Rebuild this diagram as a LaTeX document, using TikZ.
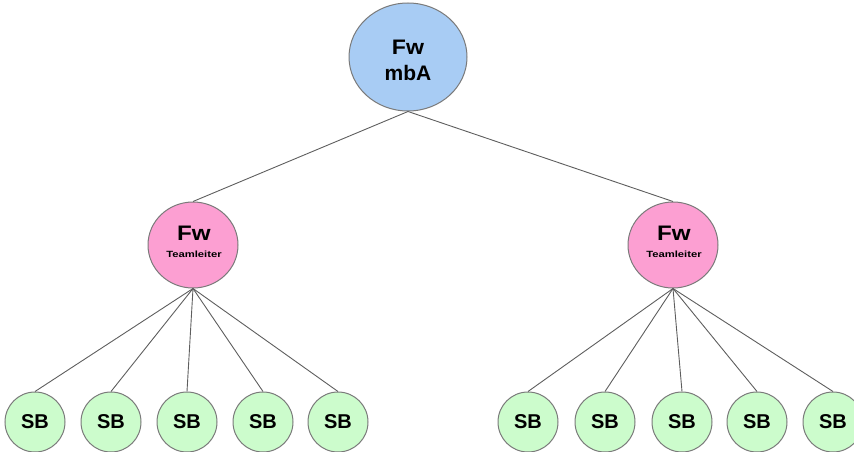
\documentclass[tikz,border=0pt]{standalone}
\usepackage{fontspec}
\setmainfont{Liberation Sans}
\usetikzlibrary{shapes.geometric}
\definecolor{blueFill}{HTML}{A8CCF4}
\definecolor{pinkFill}{HTML}{FC9FD2}
\definecolor{greenFill}{HTML}{CCFCCC}
\definecolor{edgeGray}{HTML}{7A7A7A}
\definecolor{lineGray}{HTML}{5E5E5E}
\begin{document}
\begin{tikzpicture}[x=1pt,y=-1pt,
  outline/.style={draw=edgeGray, line width=1pt},
  topbox/.style={ellipse, outline, fill=blueFill, minimum width=118pt, minimum height=108pt, inner sep=0pt},
  leadbox/.style={ellipse, outline, fill=pinkFill, minimum width=90pt, minimum height=86pt, inner sep=0pt},
  sbbox/.style={circle, outline, fill=greenFill, minimum size=60pt, inner sep=0pt,
    font=\fontsize{20}{20}\selectfont\bfseries},
  link/.style={draw=lineGray, line width=0.9pt},
  bigtext/.style={font=\fontsize{21}{21}\selectfont\bfseries, anchor=base, inner sep=0pt},
  smalltext/.style={font=\fontsize{9}{9}\selectfont\bfseries, anchor=base, inner sep=0pt},
]
\useasboundingbox (0,0) rectangle (854,452);
\clip (0,0) rectangle (854,452);

% top level
\node[topbox] (fwa) at (408,57) {};
\node[bigtext] (fwaA) at (408,55) {\scalebox{1.1}[1]{Fw}};
\node[bigtext] (fwaB) at (408,81) {mbA};

% team leaders
\node[leadbox] (leadL) at (193,245) {};
\node[bigtext] (leadLA) at (194,240) {\scalebox{1.15}[1]{Fw}};
\node[smalltext] (leadLB) at (194,257) {\scalebox{1.25}[1]{Teamleiter}};

\node[leadbox] (leadR) at (673,245) {};
\node[bigtext] (leadRA) at (674,240) {\scalebox{1.15}[1]{Fw}};
\node[smalltext] (leadRB) at (674,257) {\scalebox{1.25}[1]{Teamleiter}};

\draw[link] (fwa.south) -- (leadL.north);
\draw[link] (fwa.south) -- (leadR.north);

% staff members
\foreach \i/\x in {1/35,2/111,3/187,4/263,5/338}{
  \node[sbbox] (sbL\i) at (\x,422) {SB};
  \draw[link] (leadL.south) -- (sbL\i.north);
}
\foreach \i/\x in {1/528,2/605,3/682,4/757,5/833}{
  \node[sbbox] (sbR\i) at (\x,422) {SB};
  \draw[link] (leadR.south) -- (sbR\i.north);
}
\end{tikzpicture}
\end{document}
